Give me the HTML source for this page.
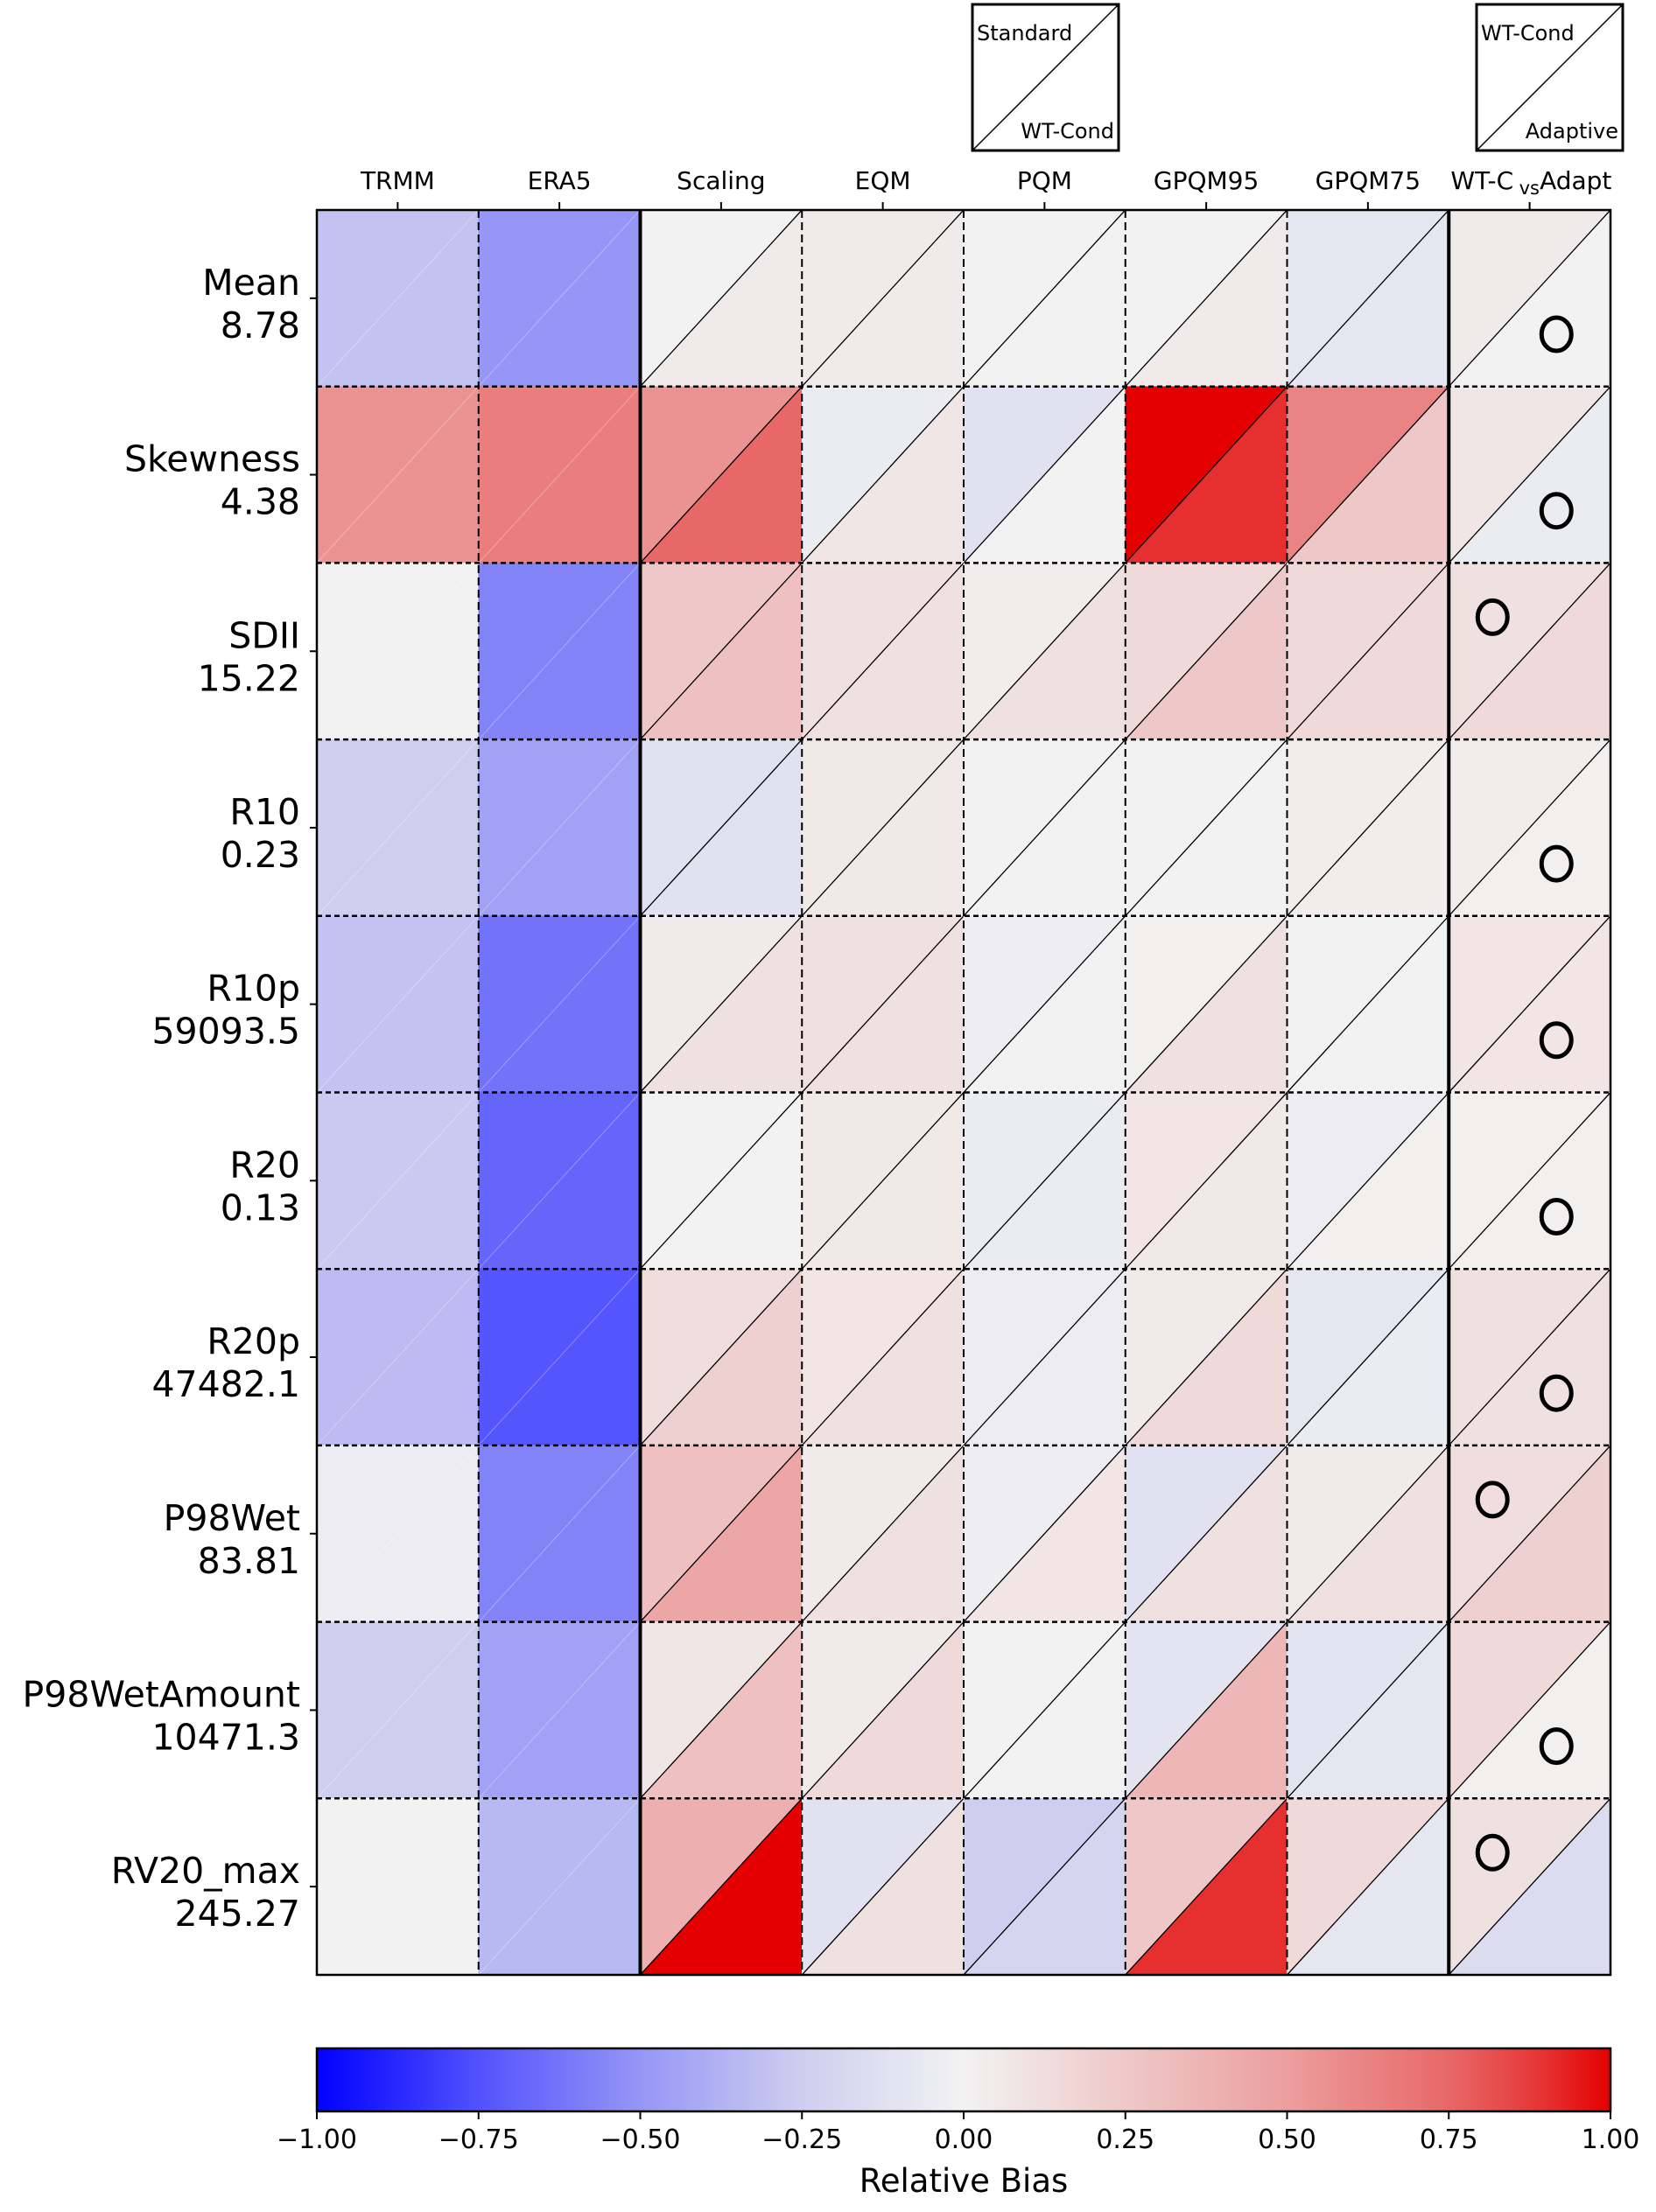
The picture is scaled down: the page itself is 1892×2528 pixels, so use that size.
<!DOCTYPE html>
<html><head><meta charset="utf-8">
<style>
html,body{margin:0;padding:0;background:#fff;}
svg{display:block;font-family:"DejaVu Sans","Liberation Sans",sans-serif;}
</style></head>
<body>
<svg id="chart" width="1892" height="2528" viewBox="0 0 1892 2528" xmlns="http://www.w3.org/2000/svg"></svg>
<script>
const columns = ["TRMM","ERA5","Scaling","EQM","PQM","GPQM95","GPQM75","WT-C vs Adapt"];
const rowNames = ["Mean","Skewness","SDII","R10","R10p","R20","R20p","P98Wet","P98WetAmount","RV20_max"];
const rowRefs = ["8.78","4.38","15.22","0.23","59093.5","0.13","47482.1","83.81","10471.3","245.27"];
// upper-left triangle values (Standard / WT-Cond) per row, per column
const upperVals = [
 [-0.30,-0.50, 0.00, 0.05, 0.00, 0.00,-0.08, 0.05],
 [ 0.55, 0.65, 0.55,-0.05,-0.12, 1.00, 0.62, 0.07],
 [ 0.00,-0.57, 0.25, 0.10, 0.03, 0.15, 0.15, 0.10],
 [-0.25,-0.45,-0.12, 0.06, 0.00, 0.00, 0.03, 0.03],
 [-0.30,-0.63, 0.05, 0.10,-0.03, 0.02, 0.00, 0.08],
 [-0.27,-0.68, 0.00, 0.06,-0.05, 0.08,-0.04, 0.02],
 [-0.33,-0.74, 0.12, 0.08,-0.04, 0.05,-0.08, 0.10],
 [-0.04,-0.57, 0.30, 0.05,-0.03,-0.12, 0.05, 0.12],
 [-0.25,-0.45, 0.07, 0.05, 0.00,-0.10,-0.10, 0.15],
 [ 0.00,-0.35, 0.40,-0.12,-0.25, 0.25, 0.15, 0.10]
];
// lower-right triangle values (WT-Cond / Adaptive)
const lowerVals = [
 [-0.30,-0.50, 0.05, 0.05, 0.00, 0.05,-0.08, 0.00],
 [ 0.55, 0.65, 0.75, 0.07, 0.00, 0.90, 0.25,-0.05],
 [ 0.00,-0.57, 0.30, 0.10, 0.10, 0.25, 0.15, 0.15],
 [-0.25,-0.45,-0.12, 0.06, 0.00, 0.00, 0.03, 0.02],
 [-0.30,-0.63, 0.10, 0.10, 0.00, 0.10, 0.00, 0.08],
 [-0.27,-0.68, 0.00, 0.06,-0.05, 0.06, 0.02, 0.02],
 [-0.33,-0.74, 0.20, 0.10,-0.04, 0.15,-0.05, 0.10],
 [-0.04,-0.57, 0.45, 0.10, 0.08, 0.10, 0.10, 0.20],
 [-0.25,-0.45, 0.30, 0.15, 0.00, 0.35,-0.08, 0.02],
 [ 0.00,-0.35, 1.00, 0.10,-0.20, 0.90,-0.08,-0.15]
];
// which triangle in the last column gets a circle: "upper" or "lower"
const circleSide = ["lower","lower","upper","lower","lower","lower","lower","upper","lower","upper"];
const cbTicks = [-1,-0.75,-0.5,-0.25,0,0.25,0.5,0.75,1];
const cbTickLabels = ["\u22121.00","\u22120.75","\u22120.50","\u22120.25","0.00","0.25","0.50","0.75","1.00"];

const NS="http://www.w3.org/2000/svg";
const svg=document.getElementById('chart');
const X0=362,X1=1840,Y0=240,Y1=2257;
const cw=(X1-X0)/columns.length, rh=(Y1-Y0)/rowNames.length;
const xc=i=>X0+i*cw, yr=j=>Y0+j*rh;
const stops=[[-1,[0,0,255]],[-0.875,[40,40,255]],[-0.75,[82,82,253]],[-0.5,[150,150,246]],[-0.25,[206,206,240]],[0,[242,242,242]],[0.25,[238,200,200]],[0.5,[236,158,158]],[0.75,[232,104,104]],[0.875,[230,60,60]],[1,[228,0,0]]];
function cmap(v){v=Math.max(-1,Math.min(1,v));for(let k=0;k<stops.length-1;k++){const a=stops[k],b=stops[k+1];if(v<=b[0]){const t=(v-a[0])/(b[0]-a[0]);const c=a[1].map((q,i)=>Math.round(q+(b[1][i]-q)*t));return `rgb(${c})`;}}return 'rgb(228,0,0)';}
function mk(tag,attrs,parent){const e=document.createElementNS(NS,tag);for(const k in attrs)e.setAttribute(k,attrs[k]);(parent||svg).appendChild(e);return e;}
function txt(s,attrs,parent){const e=mk('text',attrs,parent);e.textContent=s;return e;}

const gCells=mk('g',{});


for(let j=0;j<rowNames.length;j++){for(let i=0;i<columns.length;i++){
  const x=xc(i),y=yr(j),x2=xc(i+1),y2=yr(j+1);
  const up=mk('polygon',{points:`${x},${y} ${x2},${y} ${x},${y2}`,fill:cmap(upperVals[j][i]),stroke:cmap(upperVals[j][i]),'stroke-width':0.5},gCells);
  
  
  const lo=mk('polygon',{points:`${x2},${y} ${x2},${y2} ${x},${y2}`,fill:cmap(lowerVals[j][i]),stroke:cmap(lowerVals[j][i]),'stroke-width':0.5},gCells);
  
  
  const d=mk('line',{x1:x,y1:y2,x2:x2,y2:y,stroke:i<2?'rgba(255,255,255,0.3)':'#000','stroke-width':i<2?1:1.3},gCells);
  
  
}}
for(let j=1;j<rowNames.length;j++){const l=mk('line',{x1:X0,x2:X1,y1:yr(j),y2:yr(j),stroke:'#000','stroke-width':2.5,'stroke-dasharray':'6,4'});
  
  }
for(let i=1;i<columns.length;i++){const solid=(i===2||i===7);const l=mk('line',{x1:xc(i),x2:xc(i),y1:Y0,y2:Y1,stroke:'#000','stroke-width':solid?4:2,'stroke-dasharray':solid?'none':'9,5'});
  
  }
const fr=mk('rect',{x:X0,y:Y0,width:X1-X0,height:Y1-Y0,fill:'none',stroke:'#000','stroke-width':2.5});


for(let j=0;j<rowNames.length;j++){const up=circleSide[j]==='upper';
  const c=mk('ellipse',{cx:up?xc(7)+50:xc(7)+123,cy:up?yr(j)+62:yr(j)+142,rx:17,ry:19,fill:'none',stroke:'#000','stroke-width':5});
  
  }
for(let i=0;i<columns.length;i++){const cx=xc(i)+cw/2;
  mk('line',{x1:cx,x2:cx,y1:Y0,y2:Y0-9,stroke:'#000','stroke-width':2});
  const t=txt(i===7?'':columns[i],{x:cx,y:216,'font-size':28,'text-anchor':'middle',fill:'#000'});
  
  }
const wt=txt('WT-C',{x:xc(7)+38,y:216,'font-size':28,'text-anchor':'middle'});


const vs=txt('vs',{x:xc(7)+92,y:222,'font-size':21,'text-anchor':'middle'});


const ad=txt('Adapt',{x:xc(7)+145,y:216,'font-size':28,'text-anchor':'middle'});


for(let j=0;j<rowNames.length;j++){const cy=yr(j)+rh/2;
  mk('line',{x1:X0,x2:X0-8,y1:cy,y2:cy,stroke:'#000','stroke-width':2});
  const t=txt(rowNames[j],{x:343,y:cy-4,'font-size':41,'text-anchor':'end'});
  
  
  const r=txt(rowRefs[j],{x:343,y:cy+45,'font-size':41,'text-anchor':'end'});
  
  }
function legBox(x,top,bot,name){const g=mk('g',{});
  
  
  mk('rect',{x:x,y:5,width:167,height:167,fill:'#fff',stroke:'#000','stroke-width':3},g);
  mk('line',{x1:x,y1:172,x2:x+167,y2:5,stroke:'#000','stroke-width':1.5},g);
  txt(top,{x:x+5,y:46,'font-size':24},g);
  txt(bot,{x:x+162,y:158,'font-size':24,'text-anchor':'end'},g);}
legBox(1111,'Standard','WT-Cond','legend-standard-vs-wtcond');
legBox(1687,'WT-Cond','Adaptive','legend-wtcond-vs-adaptive');
const defs=mk('defs',{});
const grad=mk('linearGradient',{id:'cbg',x1:0,x2:1,y1:0,y2:0},defs);
for(let k=0;k<=40;k++){const v=-1+k/20;mk('stop',{offset:(k/40),'stop-color':cmap(v)},grad);}
const cb=mk('rect',{x:X0,y:2341,width:X1-X0,height:72,fill:'url(#cbg)',stroke:'#000','stroke-width':2.5});


for(let k=0;k<cbTicks.length;k++){const x=X0+(cbTicks[k]+1)/2*(X1-X0);
  mk('line',{x1:x,x2:x,y1:2413,y2:2422,stroke:'#000','stroke-width':2});
  const t=txt(cbTickLabels[k],{x:x,y:2455,'font-size':30,'text-anchor':'middle'});
  
  }
const cbt=txt('Relative Bias',{x:(X0+X1)/2,y:2505,'font-size':37,'text-anchor':'middle'});


</script>
</body></html>
